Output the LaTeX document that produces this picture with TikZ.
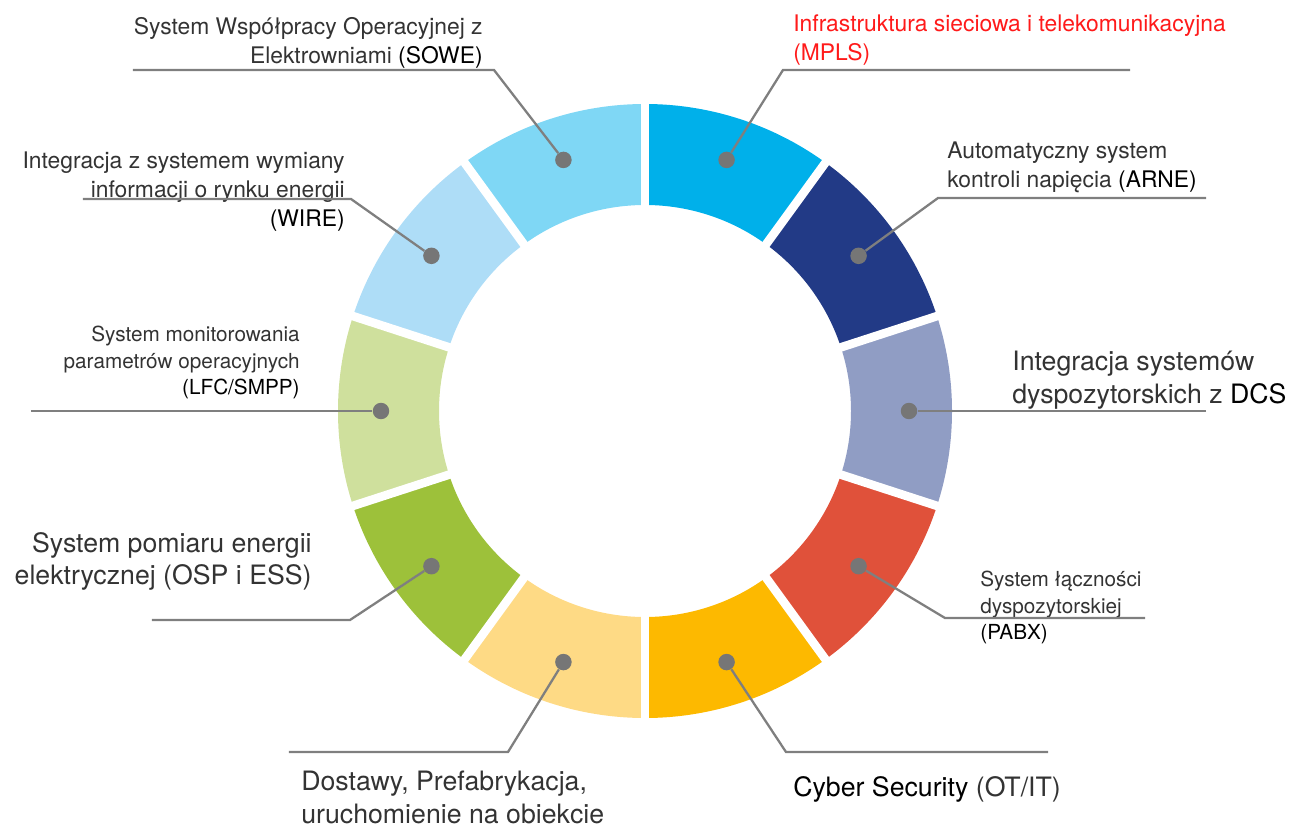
\documentclass[tikz,border=0pt]{standalone}
\usepackage{fontspec}
\setmainfont{TeX Gyre Heros}
\usepackage{tikz}
\usetikzlibrary{positioning}

% ring colours
\definecolor{sowecol}{HTML}{7FD7F5}
\definecolor{mplscol}{HTML}{00B0EA}
\definecolor{arnecol}{HTML}{223A86}
\definecolor{dcscol}{HTML}{909DC4}
\definecolor{pabxcol}{HTML}{E0513A}
\definecolor{cybercol}{HTML}{FDB900}
\definecolor{dostcol}{HTML}{FEDA85}
\definecolor{ospcol}{HTML}{9DC13A}
\definecolor{lfccol}{HTML}{CFE09D}
\definecolor{wirecol}{HTML}{AEDDF7}
% text and leaders
\definecolor{txtgray}{HTML}{333333}
\definecolor{leadgray}{HTML}{7F7F7F}
\definecolor{dotgray}{HTML}{767676}
\definecolor{mplsred}{HTML}{FF1A1A}

\newcommand{\smallfont}{\fontsize{13}{16.5}\selectfont}
\newcommand{\tinyfont}{\fontsize{11.8}{15}\selectfont}
\newcommand{\bigfont}{\fontsize{15.2}{18.4}\selectfont}
\newcommand{\abbr}[1]{\textcolor{black}{#1}}

\begin{document}
\begin{tikzpicture}[x=0.02cm, y=0.02cm]
	\useasboundingbox (-645,-417) rectangle (648,411);

	% ring segments, clockwise from the top
	\foreach \a/\c in {54/mplscol, 18/arnecol, -18/dcscol, -54/pabxcol, -90/cybercol,
	                   -126/dostcol, -162/ospcol, 162/lfccol, 126/wirecol, 90/sowecol} {
		\pgfmathsetmacro\b{\a+36}
		\fill[\c] (\a:307) arc[start angle=\a, end angle=\b, radius=307]
			-- (\b:206) arc[start angle=\b, end angle=\a, radius=206] -- cycle;
	}
	% white gaps between the segments
	\foreach \a in {18,54,...,342}
		\draw[white, line width=0.172cm] (\a:190) -- (\a:320);

	\begin{scope}[every node/.style={circle, fill=dotgray, inner sep=0pt, minimum size=0.33cm}]
		\node (mpls) at (72:264) {};
		\node (arne) at (36:264) {};
		\node (dcs) at (0:264) {};
		\node (pabx) at (-36:264) {};
		\node (cyber) at (-72:264) {};
		\node (dost) at (-108:264) {};
		\node (osp) at (-144:264) {};
		\node (lfc) at (180:264) {};
		\node (wire) at (144:264) {};
		\node (sowe) at (108:264) {};
	\end{scope}

	\begin{scope}[every node/.style={inner sep=0pt, text=txtgray}]
		\node[anchor=north east, align=right, font=\smallfont] (sowe-txt) at (-162,394)
			{System Współpracy Operacyjnej z\\Elektrowniami \abbr{(SOWE)}};
		\node[anchor=north west, align=left, font=\smallfont, text=mplsred] (mpls-txt) at (148,397)
			{Infrastruktura sieciowa i telekomunikacyjna\\(MPLS)};
		\node[anchor=north west, align=left, font=\smallfont] (arne-txt) at (302,269)
			{Automatyczny system\\kontroli napięcia \abbr{(ARNE)}};
		\node[anchor=north west, align=left, font=\bigfont] (dcs-txt) at (367,60)
			{Integracja systemów\\dyspozytorskich z \abbr{DCS}};
		\node[anchor=north west, align=left, font=\tinyfont] (pabx-txt) at (335,-160)
			{System łączności\\dyspozytorskiej\\\abbr{(PABX)}};
		\node[anchor=north west, font=\bigfont] (cyber-txt) at (148,-365)
			{\abbr{Cyber Security} (OT/IT)};
		\node[anchor=north west, align=left, font=\bigfont] (dost-txt) at (-344,-360)
			{Dostawy, Prefabrykacja,\\uruchomienie na obiekcie};
		\node[anchor=north east, align=right, font=\bigfont] (osp-txt) at (-333,-121)
			{System pomiaru energii\\elektrycznej (OSP i ESS)};
		\node[anchor=north east, align=right, font=\tinyfont] (lfc-txt) at (-345,85)
			{System monitorowania\\parametrów operacyjnych\\\abbr{(LFC/SMPP)}};
		\node[anchor=north east, align=right, font=\smallfont] (wire-txt) at (-300,259)
			{Integracja z systemem wymiany\\informacji o rynku energii\\\abbr{(WIRE)}};
	\end{scope}

	% leaders from the labels to the dots
	\begin{scope}[leadgray, line width=1.3pt]
		\coordinate (sowe-a) at (-512,341);
		\coordinate (sowe-b) at (-151,341);
		\coordinate (mpls-a) at (485,341);
		\coordinate (mpls-b) at (138,341);
		\coordinate (arne-a) at (561,213);
		\coordinate (arne-b) at (293,213);
		\coordinate (dcs-a) at (561,0);
		\coordinate (pabx-a) at (500,-207);
		\coordinate (pabx-b) at (300,-207);
		\coordinate (cyber-a) at (403,-341);
		\coordinate (cyber-b) at (141,-341);
		\coordinate (dost-a) at (-356,-341);
		\coordinate (dost-b) at (-137,-341);
		\coordinate (osp-a) at (-493,-209);
		\coordinate (osp-b) at (-295,-209);
		\coordinate (lfc-a) at (-614,0);
		\coordinate (wire-a) at (-562,212);
		\coordinate (wire-b) at (-294,212);

		\draw (sowe-a) -- (sowe-b) -- (sowe);
		\draw (mpls-a) -- (mpls-b) -- (mpls);
		\draw (arne-a) -- (arne-b) -- (arne);
		\draw (dcs-a) -- (dcs);
		\draw (pabx-a) -- (pabx-b) -- (pabx);
		\draw (cyber-a) -- (cyber-b) -- (cyber);
		\draw (dost-a) -- (dost-b) -- (dost);
		\draw (osp-a) -- (osp-b) -- (osp);
		\draw (lfc-a) -- (lfc);
		\draw (wire-a) -- (wire-b) -- (wire);
	\end{scope}
\end{tikzpicture}
\end{document}
